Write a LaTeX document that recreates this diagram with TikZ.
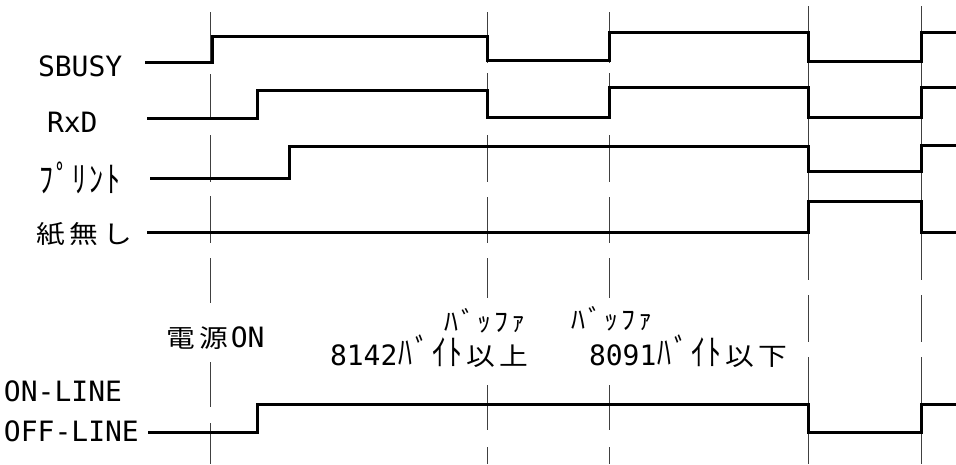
\documentclass[tikz,border=0pt]{standalone}
\usepackage{fontspec}
\newfontfamily\kjfont[FakeStretch=1.15]{Noto Sans CJK JP}
\newfontfamily\kanafont[FakeStretch=0.78]{Noto Sans CJK JP}
\newfontfamily\monofont{DejaVu Sans Mono}
% one full-width character (kanji, hiragana)
\newcommand\fc[1]{\makebox[33.4pt][c]{\kjfont\fontsize{25}{25}\selectfont #1}}
% one half-width katakana character
\newcommand\hc[1]{\makebox[16.7pt][c]{\kanafont\fontsize{36}{36}\selectfont #1}}
% Latin / digits, monospaced
\newcommand\mt[1]{{\monofont\fontsize{28}{28}\selectfont #1}}
\newcommand\smallbuf{\scalebox{1}[0.75]{\hc{ﾊ}\hc{ﾞ}\hc{ｯ}\hc{ﾌ}\hc{ｧ}}}
\begin{document}
\begin{tikzpicture}[x=1pt,y=-1pt,
  lbl/.style={anchor=base west, inner sep=0pt, outer sep=0pt},
  sig/.style={line width=3pt, line join=miter, line cap=butt},
  guide/.style={line width=1pt, black!75}]
\useasboundingbox (0,0) rectangle (956,464);
% guide lines
\draw[guide] (210,12)--(210,63) (210,74)--(210,120) (210,135)--(210,182) (210,196)--(210,243)
  (210,258)--(210,303) (210,362)--(210,407) (210,423)--(210,464);
\foreach \gx in {487,609}{
  \draw[guide] (\gx,12)--(\gx,63) (\gx,73)--(\gx,118) (\gx,135)--(\gx,182) (\gx,197)--(\gx,243)
    (\gx,258)--(\gx,298) (\gx,385)--(\gx,430) (\gx,447)--(\gx,464);
}
\foreach \gx in {808,921}{
  \draw[guide] (\gx,6)--(\gx,280) (\gx,295)--(\gx,342) (\gx,357)--(\gx,464);
}
% labels
\node[lbl] (sbusy) at (38,76) {\mt{SBUSY}};
\node[lbl] (rxd) at (47,132) {\mt{RxD}};
\node[lbl] (print) at (38,192) {\hc{ﾌ}\hc{ﾟ}\hc{ﾘ}\hc{ﾝ}\hc{ﾄ}};
\node[lbl] (paper) at (34,243) {\fc{紙}\fc{無}\fc{し}};
\node[lbl] (online) at (4,401) {\mt{ON-LINE}};
\node[lbl] (offline) at (4,441) {\mt{OFF-LINE}};
\node[lbl] (pwr) at (164,347) {\fc{電}\fc{源}\mt{ON}};
\node[lbl] (buf1) at (443,331) {\smallbuf};
\node[lbl] (over) at (330,365) {\mt{8142}\hc{ﾊ}\hc{ﾞ}\hc{ｲ}\hc{ﾄ}\fc{以}\fc{上}};
\node[lbl] (buf2) at (570,329) {\smallbuf};
\node[lbl] (under) at (589,365) {\mt{8091}\hc{ﾊ}\hc{ﾞ}\hc{ｲ}\hc{ﾄ}\fc{以}\fc{下}};
% signals
\draw[sig] (145,62)--(212,62)--(212,36)--(487,36)--(487,60)--(609,60)--(609,32)--(808,32)--(808,61)--(921,61)--(921,32)--(956,32);
\draw[sig] (147,118)--(257,118)--(257,90)--(487,90)--(487,117)--(609,117)--(609,87)--(808,87)--(808,117)--(921,117)--(921,87)--(956,87);
\draw[sig] (150,178)--(289,178)--(289,146)--(808,146)--(808,171)--(921,171)--(921,145)--(956,145);
\draw[sig] (147,232)--(808,232)--(808,201)--(921,201)--(921,232)--(956,232);
\draw[sig] (148,432)--(257,432)--(257,404)--(808,404)--(808,432)--(921,432)--(921,404)--(956,404);
\end{tikzpicture}
\end{document}
